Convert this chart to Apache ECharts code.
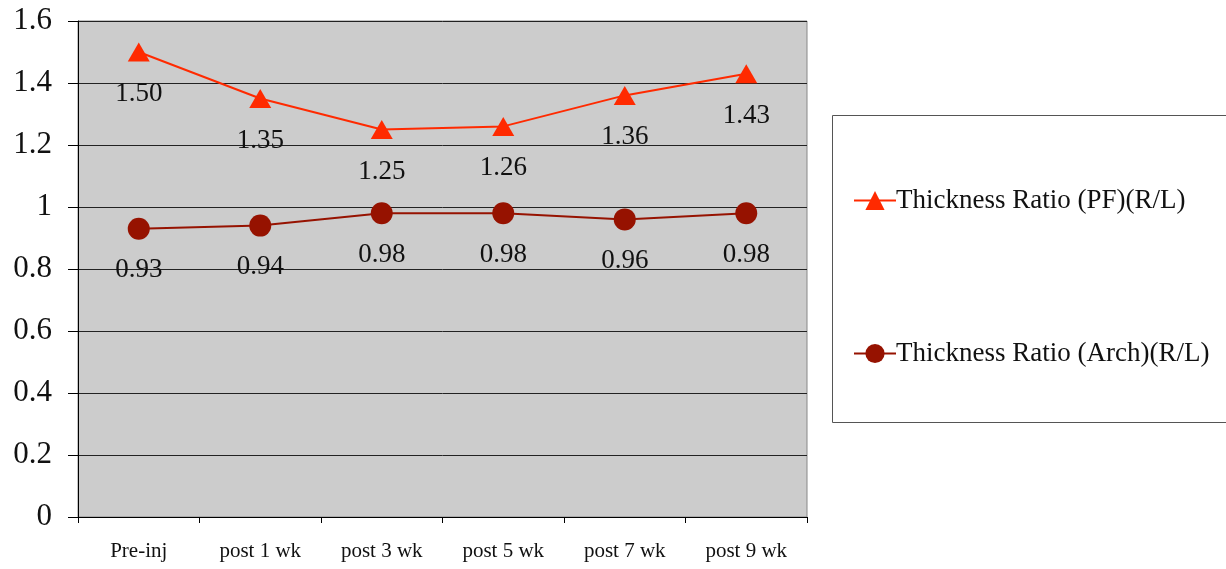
<!DOCTYPE html>
<html>
<head>
<meta charset="utf-8">
<script src="https://cdn.jsdelivr.net/npm/echarts@6/dist/echarts.min.js"></script>
<style>html,body{margin:0;padding:0;background:#fff}#c{width:1226px;height:569px}</style>
</head>
<body>
<div id="c"></div>
<script>
const categories = ['Pre-inj', 'post 1 wk', 'post 3 wk', 'post 5 wk', 'post 7 wk', 'post 9 wk'];
const pfValues = [1.50, 1.35, 1.25, 1.26, 1.36, 1.43];
const archValues = [0.93, 0.94, 0.98, 0.98, 0.96, 0.98];
const seriesNames = ['Thickness Ratio (PF)(R/L)', 'Thickness Ratio (Arch)(R/L)'];

const font = '"Liberation Serif", "DejaVu Serif", serif';
const chart = echarts.init(document.getElementById('c'));
chart.setOption({
  animation: false,
  backgroundColor: '#fff',
  graphic: [{
    type: 'rect', left: 832, top: 115,
    shape: { width: 400, height: 307 },
    style: { fill: '#fff', stroke: '#555', lineWidth: 1 }, z: 0
  }],
  grid: {
    left: 78, right: 419, top: 21, bottom: 52,
    show: true, backgroundColor: '#cccccc', borderColor: '#888', borderWidth: 1
  },
  legend: {
    orient: 'vertical', left: 848, top: 182, itemGap: 126,
    itemWidth: 42, itemHeight: 24,
    textStyle: { fontFamily: font, fontSize: 27, color: '#111', padding: [0, 0, 0, -5] },
    data: seriesNames
  },
  xAxis: {
    type: 'category', data: categories, boundaryGap: true,
    axisLine: { lineStyle: { color: '#000', width: 1 } },
    axisTick: { show: true, length: 6, lineStyle: { color: '#000' } },
    axisLabel: { fontFamily: font, fontSize: 21, color: '#111', margin: 24 },
    splitLine: { show: false }
  },
  yAxis: {
    type: 'value', min: 0, max: 1.6, interval: 0.2,
    axisLine: { show: true, lineStyle: { color: '#000', width: 1 } },
    axisTick: { show: true, length: 10, inside: false, lineStyle: { color: '#000' } },
    axisLabel: { fontFamily: font, fontSize: 31, color: '#111', margin: 26,
      formatter: v => String(Math.round(v * 10) / 10) },
    splitLine: { show: true, lineStyle: { color: '#222', width: 1 } }
  },
  series: [
    {
      name: seriesNames[0], type: 'line', data: pfValues,
      symbol: 'triangle', symbolSize: [22, 19],
      lineStyle: { color: '#ff2a00', width: 2 },
      itemStyle: { color: '#ff2a00' },
      label: { show: true, position: 'bottom', distance: 19, fontFamily: font, fontSize: 27, color: '#111',
        formatter: p => p.value.toFixed(2) }
    },
    {
      name: seriesNames[1], type: 'line', data: archValues,
      symbol: 'circle', symbolSize: 22,
      lineStyle: { color: '#961200', width: 2 },
      itemStyle: { color: '#961200' },
      label: { show: true, position: 'bottom', distance: 17, fontFamily: font, fontSize: 27, color: '#111',
        formatter: p => p.value.toFixed(2) }
    }
  ]
});
</script>
</body>
</html>
